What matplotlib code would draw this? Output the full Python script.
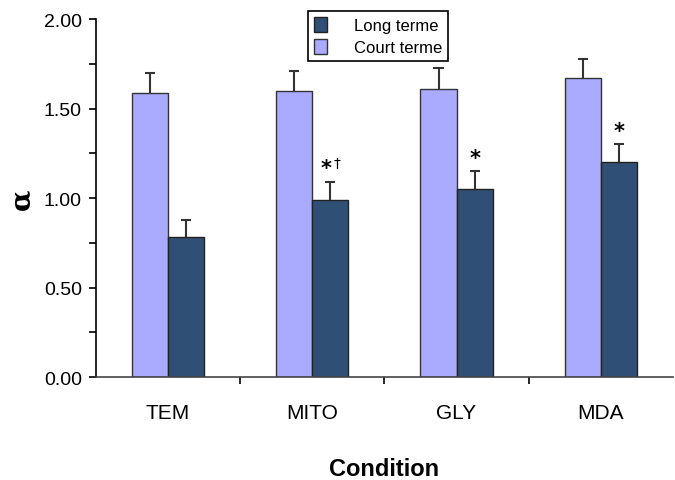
import matplotlib
matplotlib.use('Agg')
import matplotlib.pyplot as plt
import numpy as np

plt.rcParams['font.family'] = ['Liberation Sans', 'DejaVu Sans']

# donnees
conditions = ['TEM', 'MITO', 'GLY', 'MDA']
court_terme = [1.59, 1.60, 1.61, 1.67]
court_err = [0.11, 0.11, 0.12, 0.11]
long_terme = [0.78, 0.99, 1.05, 1.20]
long_err = [0.10, 0.10, 0.10, 0.10]
signif = ['', '*', '*', '*']
dagger = ['', '\u2020', '', '']

court_color = '#AAAAFF'
long_color = '#2F5074'

fig = plt.figure(figsize=(6.75, 4.81), dpi=100)
ax = fig.add_axes([0.142, 0.214, 0.855, 0.744])

x = np.arange(len(conditions))
w = 0.25
cap = 0.035

def up_errbars(xs, tops, errs):
    # barres d'erreur uniquement vers le haut
    ends = np.array(tops) + np.array(errs)
    ax.vlines(xs, tops, ends, color='#333333', linewidth=1.5, zorder=3)
    ax.hlines(ends, xs - cap, xs + cap, color='#333333', linewidth=1.5, zorder=3)

ax.bar(x - w/2, court_terme, w, color=court_color, edgecolor='#333333', linewidth=1,
       label='Court terme', zorder=2)
ax.bar(x + w/2, long_terme, w, color=long_color, edgecolor='#222222', linewidth=1,
       label='Long terme', zorder=2)
up_errbars(x - w/2, court_terme, court_err)
up_errbars(x + w/2, long_terme, long_err)

for i in range(len(conditions)):
    ytop = long_terme[i] + long_err[i]
    if signif[i]:
        ax.text(x[i] + w/2 + (-0.03 if dagger[i] else 0), ytop + 0.02, signif[i],
                ha='center', va='bottom', fontsize=15, fontweight='bold', family=['DejaVu Sans'])
    if dagger[i]:
        ax.text(x[i] + w/2 + 0.05, ytop + 0.065, dagger[i],
                ha='center', va='bottom', fontsize=10, family=['DejaVu Sans'])

ax.set_xlim(-0.5, 3.5)
ax.set_ylim(0, 2.0)
ax.set_yticks(np.arange(0, 2.01, 0.5))
ax.set_yticks(np.arange(0, 2.01, 0.25), minor=True)
ax.set_yticklabels(['%.2f' % v for v in np.arange(0, 2.01, 0.5)], fontsize=14)
ax.tick_params(axis='y', which='both', direction='out', length=5, width=1.2, pad=5)

ax.set_xticks(x)
ax.set_xticklabels(conditions, fontsize=15)
ax.set_xticks([0.5, 1.5, 2.5], minor=True)
ax.tick_params(axis='x', which='major', length=0, pad=19)
ax.tick_params(axis='x', which='minor', direction='out', length=5, width=1.2)

ax.spines['top'].set_visible(False)
ax.spines['right'].set_visible(False)
ax.spines['left'].set_linewidth(1.2)
ax.spines['bottom'].set_linewidth(1.2)
ax.spines['bottom'].set_color('#444444')

ax.set_ylabel('\u03b1', fontsize=20, fontweight='bold', family=['DejaVu Serif'], labelpad=6)
ax.set_xlabel('Condition', fontsize=17, fontweight='bold', labelpad=25)

handles, labels = ax.get_legend_handles_labels()
leg = fig.legend([handles[1], handles[0]], [labels[1], labels[0]],
                 loc='upper left', bbox_to_anchor=(0.444, 0.992), fontsize=12,
                 fancybox=False, edgecolor='black', framealpha=1,
                 handlelength=0.8, handleheight=1.0, handletextpad=1.6,
                 borderpad=0.35, labelspacing=0.35)
leg.get_frame().set_linewidth(1.2)

plt.savefig('out.png', dpi=100)
